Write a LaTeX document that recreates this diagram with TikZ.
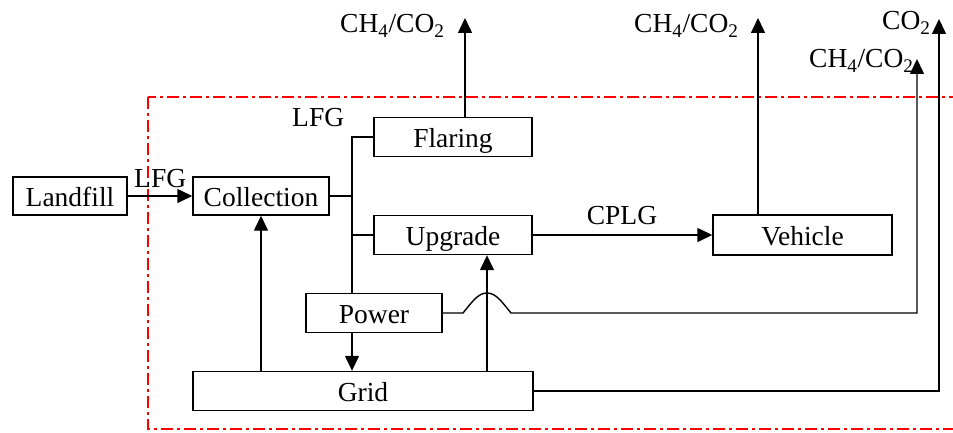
\documentclass[tikz,border=0pt]{standalone}
\usepackage{fontspec}
\setmainfont{Liberation Serif}
\usetikzlibrary{arrows.meta}
\tikzset{
  box/.style={draw, line width=1.4pt, inner sep=0pt, anchor=center, text height=24pt, text depth=2.6pt, font=\fontsize{27.5}{32}\selectfont},
  conn/.style={line width=1.4pt},
  arr/.style={conn, -{Triangle[length=15pt,width=14pt]}},
  lbl/.style={inner sep=0pt, font=\fontsize{27.5}{32}\selectfont},
  zone/.style={red, line width=1.4pt, dash pattern=on 12pt off 4pt on 3pt off 4pt}
}
\begin{document}
\begin{tikzpicture}[x=1pt,y=-1pt]
\useasboundingbox (0,0) rectangle (953,433);
\begin{scope}
\clip (0,0) rectangle (953,433);
\draw[zone] (148,97) rectangle (970,429);
\end{scope}
% boxes
\node[box, minimum width=114pt, minimum height=38pt] (landfill) at (70,196) {Landfill};
\node[box, minimum width=136pt, minimum height=38pt] (collection) at (261,196) {Collection};
\node[box, minimum width=158pt, minimum height=39pt] (flaring) at (453,137) {Flaring};
\node[box, minimum width=158pt, minimum height=39pt] (upgrade) at (453,235) {Upgrade};
\node[box, minimum width=179pt, minimum height=40pt] (vehicle) at (802.5,235) {Vehicle};
\node[box, minimum width=136pt, minimum height=39pt] (power) at (374,313) {Power};
\node[box, minimum width=340pt, minimum height=39pt] (grid) at (363,391) {Grid};
% coordinates
\coordinate (j) at (352,196);
\coordinate (xu) at (487,0);
\coordinate (xf) at (465,0);
\coordinate (xv) at (758,0);
\coordinate (t1) at (465,18);
\coordinate (t2) at (758,18);
\coordinate (t3) at (917,59);
\coordinate (t4) at (939,19);
\coordinate (h1) at (463,313);
\coordinate (hp) at (487,293);
\coordinate (h2) at (511,313);
% labels
\node[lbl, anchor=base west] (l1) at (340,33) {CH\textsubscript{4}/CO\textsubscript{2}};
\node[lbl, anchor=base west] (l2) at (634,33) {CH\textsubscript{4}/CO\textsubscript{2}};
\node[lbl, anchor=base west] (l3) at (882,30) {CO\textsubscript{2}};
\node[lbl, anchor=base west] (l4) at (809,68) {CH\textsubscript{4}/CO\textsubscript{2}};
\node[lbl, anchor=base] (lc) at (622,224) {CPLG};
\node[lbl, anchor=base west] (lf1) at (134,187) {LFG};
\node[lbl, anchor=base west] (lf2) at (292,127) {LFG};
% connectors
\draw[arr] (landfill.east) -- (collection.west);
\draw[conn] (collection.east) -- (j);
\draw[conn] (flaring.west) -| (j |- power.north);
\draw[conn] (upgrade.west) -- (upgrade.west -| j);
\draw[arr] (upgrade.east) -- (vehicle.west);
\draw[arr] (flaring.north -| xf) -- (t1);
\draw[arr] (vehicle.north -| xv) -- (t2);
\draw[arr] (power.south -| j) -- (grid.north -| j);
\draw[arr] (grid.north -| collection) -- (collection.south);
\draw[arr] (grid.north -| xu) -- (upgrade.south -| xu);
\draw[arr] (power.east) -- (h1) .. controls (472,302) and (478,293) .. (hp) .. controls (496,293) and (502,302) .. (h2) -| (t3);
\draw[arr] (grid.east) -| (t4);
\end{tikzpicture}
\end{document}
